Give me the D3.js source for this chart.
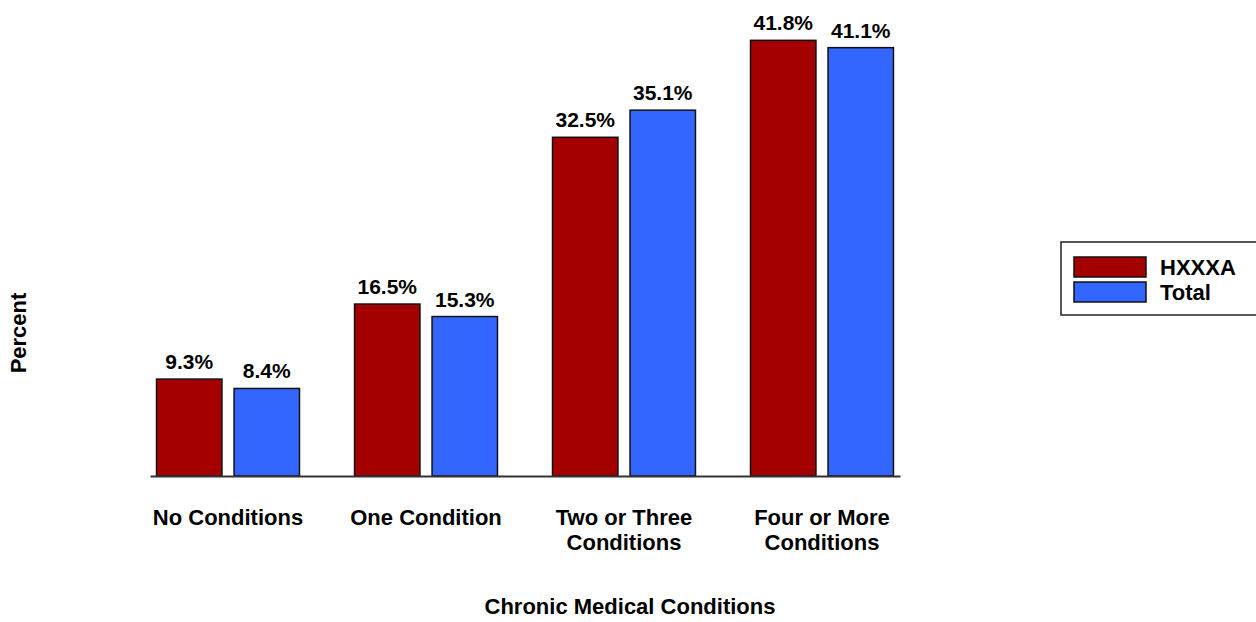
<!DOCTYPE html>
<html>
<head>
<meta charset="utf-8">
<script src="https://cdn.jsdelivr.net/npm/d3@7"></script>
<style>
  html, body { margin: 0; padding: 0; background: #fff; }
  svg { display: block; }
  text { font-family: "Liberation Sans", Arial, Helvetica, sans-serif; font-weight: bold; fill: #000; }
</style>
</head>
<body>
<svg id="chart" width="1256" height="622"></svg>
<script>
// Share of people by number of chronic medical conditions
const categories = ["No Conditions", "One Condition", "Two or Three Conditions", "Four or More Conditions"];
const categoryLines = [["No Conditions"], ["One Condition"], ["Two or Three", "Conditions"], ["Four or More", "Conditions"]];
const seriesNames = ["HXXXA", "Total"];
const hxxxaValues = [9.3, 16.5, 32.5, 41.8];
const totalValues = [8.4, 15.3, 35.1, 41.1];
const seriesColors = ["#A50000", "#3366FF"];

const svg = d3.select("#chart");

const x = d3.scaleBand()
  .domain(categories)
  .range([150, 900])
  .paddingInner(0.278)
  .paddingOuter(0.033);

const xInner = d3.scaleBand()
  .domain(seriesNames)
  .range([0, x.bandwidth()])
  .paddingInner(0.156);

const y = d3.scaleLinear().domain([0, 45]).range([476, 7]);

const seriesValues = [hxxxaValues, totalValues];
const rows = [];
categories.forEach((c, i) => {
  seriesNames.forEach((s, j) => {
    rows.push({ category: c, series: s, value: seriesValues[j][i], color: seriesColors[j] });
  });
});

// bars
svg.append("g").selectAll("rect")
  .data(rows)
  .join("rect")
  .attr("x", d => x(d.category) + xInner(d.series))
  .attr("y", d => y(d.value))
  .attr("width", xInner.bandwidth())
  .attr("height", d => y(0) - y(d.value))
  .attr("fill", d => d.color)
  .attr("stroke", "#111")
  .attr("stroke-width", 1.5);

// value labels
svg.append("g").selectAll("text")
  .data(rows)
  .join("text")
  .attr("x", d => x(d.category) + xInner(d.series) + xInner.bandwidth() / 2)
  .attr("y", d => y(d.value) - 10)
  .attr("text-anchor", "middle")
  .style("font-size", "21px")
  .text(d => d.value.toFixed(1) + "%");

// category axis
const xAxis = d3.axisBottom(x).tickSize(0).tickSizeOuter(0).tickPadding(0);
const gx = svg.append("g")
  .attr("transform", `translate(0,${y(0)})`)
  .call(xAxis);
gx.select(".domain").attr("stroke", "#333").attr("stroke-width", 2);
gx.selectAll(".tick text").each(function (d) {
  const t = d3.select(this);
  const lines = categoryLines[categories.indexOf(d)];
  t.text(null)
    .attr("y", 0)
    .attr("dy", null)
    .attr("fill", "#000")
    .attr("font-family", null)
    .attr("font-size", null)
    .style("font-size", "22px");
  lines.forEach((ln, k) => {
    t.append("tspan").attr("x", 0).attr("y", 49 + k * 25).text(ln);
  });
});

// axis titles
svg.append("text")
  .attr("x", 630)
  .attr("y", 614)
  .attr("text-anchor", "middle")
  .style("font-size", "22px")
  .text("Chronic Medical Conditions");

svg.append("text")
  .attr("transform", "translate(26,333) rotate(-90)")
  .attr("text-anchor", "middle")
  .style("font-size", "22px")
  .text("Percent");

// legend
const legend = svg.append("g");
legend.append("rect")
  .attr("x", 1061).attr("y", 242)
  .attr("width", 210).attr("height", 73)
  .attr("fill", "#fff")
  .attr("stroke", "#222")
  .attr("stroke-width", 1.5);
const legendItems = legend.selectAll("g.item")
  .data(seriesNames)
  .join("g")
  .attr("class", "item")
  .attr("transform", (d, i) => `translate(1074,${257 + i * 25})`);
legendItems.append("rect")
  .attr("width", 72).attr("height", 20)
  .attr("fill", (d, i) => seriesColors[i])
  .attr("stroke", "#111")
  .attr("stroke-width", 1.5);
legendItems.append("text")
  .attr("x", 86).attr("y", 18)
  .style("font-size", "22px")
  .text(d => d);
</script>
</body>
</html>
